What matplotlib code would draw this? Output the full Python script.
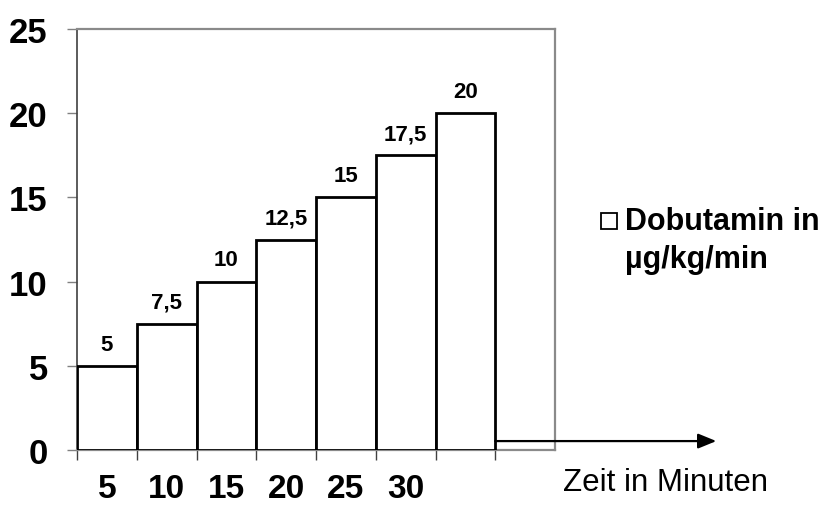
import matplotlib
matplotlib.use("Agg")
import matplotlib.pyplot as plt
from matplotlib.patches import Rectangle

plt.rcParams['font.family'] = ['Liberation Sans', 'DejaVu Sans']

# Dobutamin dose steps
steps = [0, 1, 2, 3, 4, 5, 6]
doses = [5, 7.5, 10, 12.5, 15, 17.5, 20]
dose_labels = ["5", "7,5", "10", "12,5", "15", "17,5", "20"]
minute_labels = ["5", "10", "15", "20", "25", "30", ""]
y_ticks = [0, 5, 10, 15, 20, 25]

W, H = 830, 506
fig = plt.figure(figsize=(W / 100, H / 100), dpi=100)
ax = fig.add_axes([77 / W, 1 - 451 / H, (555 - 77) / W, (451 - 30) / H])

ax.bar(steps, doses, width=1.0, facecolor='white', edgecolor='black',
       linewidth=2.0, zorder=3)

for x, v, lab in zip(steps, doses, dose_labels):
    ax.annotate(lab, (x, v), xytext=(0, 8), textcoords='offset points',
                ha='center', va='bottom', fontsize=16, fontweight='bold')

ax.set_xlim(-0.5, 7.5)
ax.set_ylim(0, 25)

ax.set_yticks(y_ticks)
ax.set_yticklabels([str(t) for t in y_ticks], fontsize=25, fontweight='bold')
ax.tick_params(axis='y', length=7, width=1.0, color='#808080', pad=14)

ax.set_xticks(steps)
ax.set_xticklabels(minute_labels, fontsize=24, fontweight='bold')
ax.tick_params(axis='x', which='major', length=0, pad=16.5)
ax.set_xticks([s - 0.5 for s in steps] + [6.5], minor=True)
ax.tick_params(axis='x', which='minor', length=7, width=1.0, color='#404040')

for side in ['top', 'right', 'bottom']:
    ax.spines[side].set_color('#8a8a8a')
    ax.spines[side].set_linewidth(1.6)
ax.spines['left'].set_color('#404040')
ax.spines['left'].set_linewidth(1.2)

# time arrow
ax.annotate('', xy=(10.2, 0.53), xytext=(6.5, 0.53), xycoords='data',
            annotation_clip=False,
            arrowprops=dict(arrowstyle='-|>,head_length=1.1,head_width=0.45',
                            color='black', lw=1.6, shrinkA=0, shrinkB=0))
fig.text(563 / W, 1 - 483 / H, "Zeit in Minuten", fontsize=22.5,
         ha='left', va='center')

# legend
fig.patches.append(Rectangle((601 / W, 1 - 230 / H), 16 / W, 16 / H,
                             transform=fig.transFigure, facecolor='white',
                             edgecolor='black', linewidth=1.3))
fig.text(625 / W, 1 - 222 / H, "Dobutamin in", fontsize=22, fontweight='bold',
         ha='left', va='center')
fig.text(625 / W, 1 - 260 / H, "µg/kg/min", fontsize=22, fontweight='bold',
         ha='left', va='center')

fig.savefig("out.png", dpi=100)
